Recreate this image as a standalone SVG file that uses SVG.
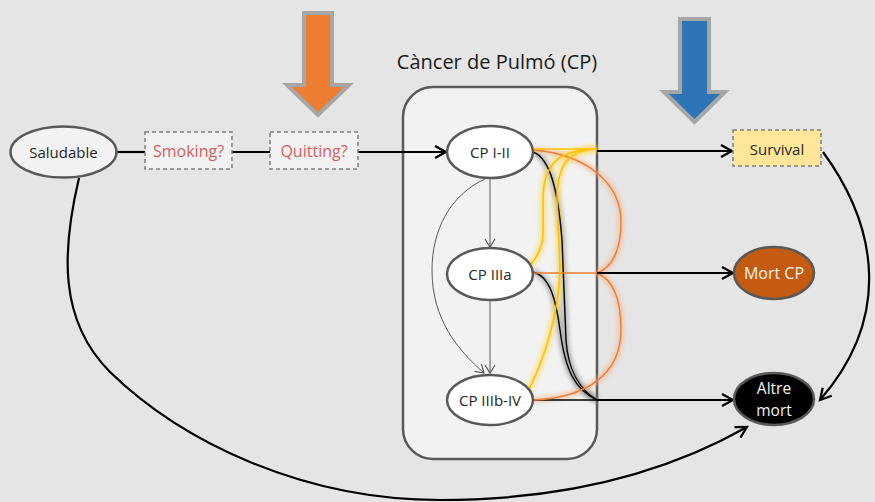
<svg xmlns="http://www.w3.org/2000/svg" width="875" height="502" viewBox="0 0 875 502">
  <defs>
    <style>
      .lbl { font-family: "Open Sans", "Liberation Sans", sans-serif; font-size: 15px; fill: #262626; text-anchor: middle; dominant-baseline: central; }
      .red { fill: #d0605e; font-size: 16px; }
      .node { stroke: #595959; stroke-width: 2.5; }
      .dash { fill: #f2f2f2; stroke: #7f7f7f; stroke-width: 1.5; stroke-dasharray: 4 3; }
      .edge { fill: none; stroke: #000; stroke-width: 2.2; }
      .thin { fill: none; stroke: #595959; stroke-width: 1; }
      .y { fill: none; stroke: #ffc000; stroke-width: 1.6; }
      .yg { fill: none; stroke: #ffd84d; stroke-width: 7; opacity: 0.55; filter: url(#blur); }
      .o { fill: none; stroke: #ed7d31; stroke-width: 1.4; }
      .og { fill: none; stroke: #f4b183; stroke-width: 6; opacity: 0.6; filter: url(#blur); }
      .k { fill: none; stroke: #000; stroke-width: 1.4; }
      .kg { fill: none; stroke: #7f7f7f; stroke-width: 6; opacity: 0.55; filter: url(#blur); }
      .big { stroke: #a6a6a6; stroke-width: 4; stroke-linejoin: miter; }
    </style>
    <filter id="blur" x="-20%" y="-20%" width="140%" height="140%">
      <feGaussianBlur stdDeviation="2"/>
    </filter>
    <marker id="arr" markerWidth="16" markerHeight="16" refX="12" refY="7" orient="auto" markerUnits="userSpaceOnUse">
      <path d="M1,1 L12,7 L1,13" fill="none" stroke="#000" stroke-width="2.2"/>
    </marker>
    <marker id="arrg" markerWidth="12" markerHeight="12" refX="9" refY="6" orient="auto" markerUnits="userSpaceOnUse">
      <path d="M1,1 L9,6 L1,11" fill="none" stroke="#595959" stroke-width="1.2"/>
    </marker>
  </defs>

  <rect x="0" y="0" width="875" height="502" fill="#e5e5e5"/>

  <!-- lung cancer container -->
  <g id="container">
    <rect x="403" y="87" width="194" height="372" rx="30" ry="30" fill="#f2f2f2" stroke="#595959" stroke-width="2.5"/>
    <text x="497" y="61" class="lbl" style="font-size:20px;fill:#1a1a1a">Càncer de Pulmó (CP)</text>
  </g>

  <!-- intervention arrows -->
  <g id="arrow-orange">
    <polygon class="big" fill="#ed7d31" points="304,13 332,13 332,85 349,85 318,115 287,85 304,85"/>
  </g>
  <g id="arrow-blue">
    <polygon class="big" fill="#2e75b6" points="680,19 709,19 709,92 725,92 694.5,122 664,92 680,92"/>
  </g>

  <!-- connectors -->
  <g id="connectors">
    <line class="edge" x1="117" y1="152" x2="145" y2="152"/>
    <line class="edge" x1="232" y1="152" x2="270" y2="152"/>
    <line class="edge" x1="358" y1="152" x2="446" y2="152" marker-end="url(#arr)"/>

    <!-- progression between stages -->
    <line class="thin" x1="490" y1="178" x2="490" y2="247" marker-end="url(#arrg)"/>
    <line class="thin" x1="490" y1="300" x2="490" y2="373" marker-end="url(#arrg)"/>
    <path class="thin" d="M485 179 C450 195, 432 230, 432 270 C432 320, 458 350, 484 373" marker-end="url(#arrg)"/>

    <!-- transitions out of the stages: glow layers -->
    <path class="kg" d="M533 152 C550 158, 558 190, 562 240 L566 340 C568 370, 580 390, 597 400"/>
    <path class="kg" d="M533 272 C550 276, 556 300, 560 330 C565 370, 575 390, 597 400"/>
    <path class="kg" d="M533 400 L597 400"/>
    <path class="og" d="M533 150 C585 154, 621 182, 621 222 C621 250, 612 268, 597 273"/>
    <path class="og" d="M533 273 L597 273"/>
    <path class="og" d="M597 273 C614 280, 621 300, 621 330 C621 375, 585 398, 533 400"/>
    <path class="yg" d="M525 149 L597 149"/>
    <path class="yg" d="M597 149 C560 150, 543 162, 543 200 L543 232 C543 250, 535 262, 523 272"/>
    <path class="yg" d="M597 149 C568 150, 557 165, 557 200 L560 265 C560 310, 545 360, 525 397"/>

    <!-- transitions out of the stages: lines -->
    <path class="k" d="M533 152 C550 158, 558 190, 562 240 L566 340 C568 370, 580 390, 597 400"/>
    <path class="k" d="M533 272 C550 276, 556 300, 560 330 C565 370, 575 390, 597 400"/>
    <path class="k" d="M533 400 L597 400"/>
    <path class="o" d="M533 150 C585 154, 621 182, 621 222 C621 250, 612 268, 597 273"/>
    <path class="o" d="M533 273 L597 273"/>
    <path class="o" d="M597 273 C614 280, 621 300, 621 330 C621 375, 585 398, 533 400"/>
    <path class="y" d="M525 149 L597 149"/>
    <path class="y" d="M597 149 C560 150, 543 162, 543 200 L543 232 C543 250, 535 262, 523 272"/>
    <path class="y" d="M597 149 C568 150, 557 165, 557 200 L560 265 C560 310, 545 360, 525 397"/>

    <!-- outcomes -->
    <line class="edge" x1="597" y1="151" x2="732" y2="151" marker-end="url(#arr)"/>
    <line class="edge" x1="597" y1="273" x2="733" y2="273" marker-end="url(#arr)"/>
    <line class="edge" x1="597" y1="400" x2="733" y2="400" marker-end="url(#arr)"/>
    <path class="edge" d="M823 152 C880 230, 890 320, 820 400" marker-end="url(#arr)"/>
    <path class="edge" d="M79 178 C62 250, 58 320, 110 372 C180 440, 300 500, 440 500 C580 500, 680 465, 747 427" marker-end="url(#arr)"/>
  </g>

  <!-- nodes -->
  <g id="saludable">
    <ellipse class="node" cx="63.5" cy="152" rx="53" ry="25.5" fill="#f2f2f2"/>
    <text class="lbl" x="63.5" y="152">Saludable</text>
  </g>
  <g id="smoking">
    <rect class="dash" x="145" y="132" width="87" height="37"/>
    <text class="lbl red" x="188.5" y="150.5">Smoking?</text>
  </g>
  <g id="quitting">
    <rect class="dash" x="270" y="132" width="88" height="37"/>
    <text class="lbl red" x="314" y="150.5">Quitting?</text>
  </g>
  <g id="cp-i-ii">
    <ellipse class="node" cx="490" cy="152" rx="43" ry="26" fill="#fff"/>
    <text class="lbl" x="490" y="152">CP I-II</text>
  </g>
  <g id="cp-iiia">
    <ellipse class="node" cx="490" cy="274" rx="43" ry="26" fill="#fff"/>
    <text class="lbl" x="490" y="274">CP IIIa</text>
  </g>
  <g id="cp-iiib-iv">
    <ellipse class="node" cx="490" cy="400" rx="43" ry="25" fill="#fff"/>
    <text class="lbl" x="490" y="400">CP IIIb-IV</text>
  </g>
  <g id="survival">
    <rect class="dash" x="733" y="130" width="88" height="36" style="fill:#ffe699"/>
    <text class="lbl" x="777" y="148.5">Survival</text>
  </g>
  <g id="mort-cp">
    <ellipse class="node" cx="774" cy="273" rx="40" ry="26" fill="#c55a11"/>
    <text class="lbl" x="774" y="273" style="fill:#f2f2f2;font-size:16px">Mort CP</text>
  </g>
  <g id="altre-mort">
    <ellipse class="node" cx="774" cy="399" rx="40" ry="26" fill="#000"/>
    <text class="lbl" x="774" y="388" style="fill:#f2f2f2;font-size:15.5px">Altre</text>
    <text class="lbl" x="774" y="410" style="fill:#f2f2f2;font-size:15.5px">mort</text>
  </g>
</svg>
